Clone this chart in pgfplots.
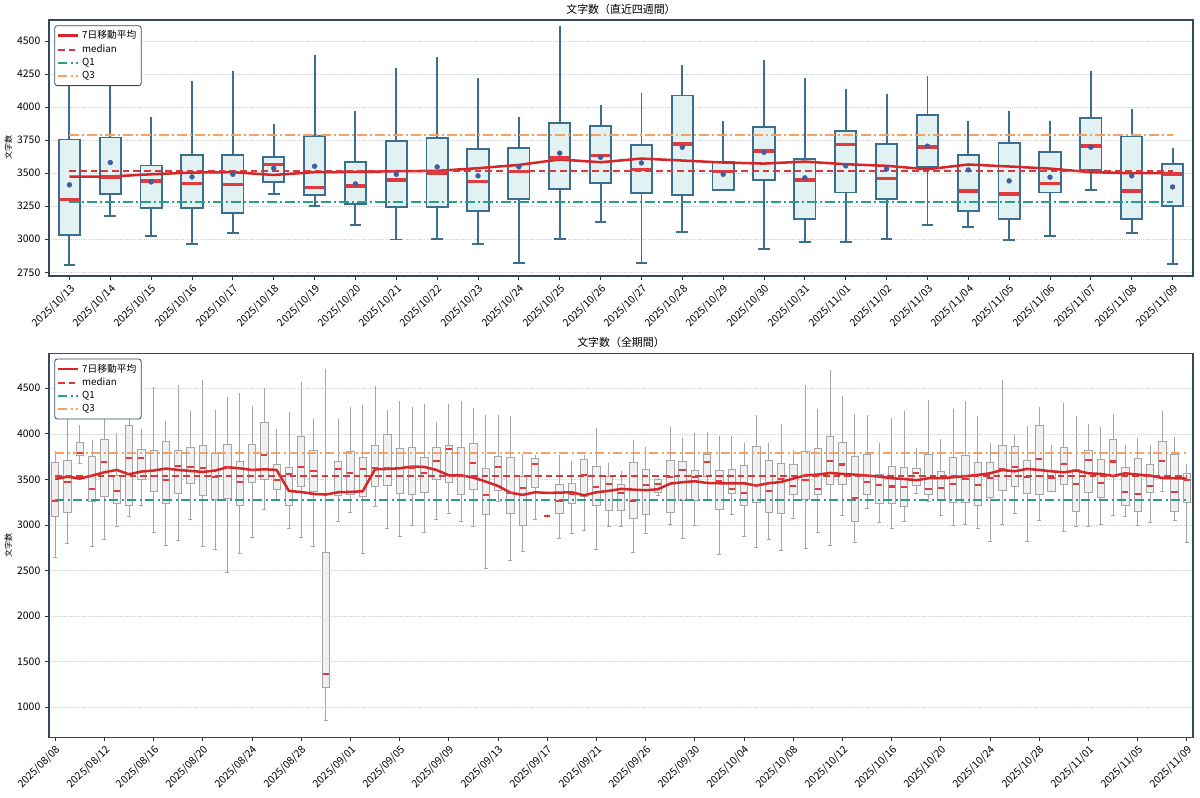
\documentclass[border=0pt]{standalone}
\usepackage{fontspec}
\setmainfont{Noto Sans CJK JP}
\usepackage{pgfplots}
\usepackage{pgfplotstable}
\pgfplotsset{compat=1.18}

\definecolor{boxblue}{RGB}{59,110,143}
\definecolor{boxfill}{RGB}{226,242,242}
\definecolor{medred}{RGB}{224,58,62}
\definecolor{mared}{RGB}{214,39,40}
\definecolor{dashred}{RGB}{217,54,62}
\definecolor{meanblue}{RGB}{63,95,159}
\definecolor{qonec}{RGB}{42,157,143}
\definecolor{qthreec}{RGB}{244,162,97}
\definecolor{framec}{RGB}{52,73,94}
\definecolor{gboxedge}{RGB}{165,165,165}
\definecolor{gboxfill}{RGB}{240,240,240}

\pgfplotstableread{
pos lw q1 med q3 uw mean ma
0 2805 3035 3300 3755 4196 3412 3475
1 3179 3341 3472 3770 4182 3581 3475
2 3025 3240 3442 3558 3879 3434 3492
3 2965 3237 3422 3641 4157 3472 3505
4 3045 3202 3414 3636 4232 3492 3508
5 3346 3432 3566 3626 3828 3538 3487
6 3255 3333 3391 3780 4348 3553 3508
7 3111 3265 3404 3588 3924 3419 3510
8 2998 3245 3447 3745 4255 3492 3515
9 3005 3245 3502 3765 4336 3548 3518
10 2965 3215 3437 3684 4179 3480 3538
11 2818 3306 3513 3692 3881 3548 3563
12 3003 3379 3614 3879 4568 3652 3604
13 3131 3424 3636 3859 3972 3621 3583
14 2821 3348 3530 3712 4066 3578 3611
15 3053 3338 3722 4088 4275 3697 3596
16 3374 3374 3515 3583 3851 3492 3581
17 2929 3447 3667 3851 4311 3659 3573
18 2982 3152 3449 3609 4179 3465 3588
19 2982 3354 3717 3821 4091 3556 3568
20 3005 3308 3462 3722 4053 3533 3556
21 3109 3548 3697 3944 4192 3705 3530
22 3093 3217 3366 3636 3851 3525 3566
23 2995 3152 3343 3732 3929 3442 3551
24 3028 3354 3424 3662 3854 3470 3535
25 3371 3523 3705 3917 4227 3697 3508
26 3048 3154 3366 3778 3939 3480 3500
27 2813 3253 3495 3571 3644 3396 3500
}\topdata

\pgfplotstableread{
pos lw q1 med q3 uw ma
0 2642 3092 3264 3684 3790 3505
1 2800 3140 3476 3706 4145 3530
2 3677 3765 3794 3908 4072 3509
3 2763 3264 3399 3758 3908 3542
4 2843 3319 3688 3940 4182 3578
5 2982 3242 3374 3540 3984 3604
6 3092 3220 3739 4090 4226 3556
7 3220 3505 3736 3831 4036 3586
8 2924 3374 3538 3816 4489 3597
9 2778 3242 3498 3915 4123 3619
10 2832 3344 3644 3823 4515 3604
11 3059 3461 3633 3849 4229 3593
12 2770 3330 3626 3878 4573 3582
13 2734 3282 3530 3787 4244 3597
14 2481 3293 3633 3889 4379 3633
15 2690 3220 3469 3695 4427 3622
16 2862 3469 3608 3882 4281 3604
17 3176 3505 3772 4123 4478 3611
18 3282 3392 3494 3663 4028 3604
19 2964 3220 3557 3633 4215 3374
20 2869 3421 3633 3977 4548 3362
21 2763 3370 3589 3823 4142 3341
22 861 1220 1362 2701 4694 3334
23 3045 3320 3611 3703 4145 3359
24 3140 3337 3575 3809 4270 3363
25 2686 3319 3611 3747 4299 3370
26 3209 3421 3622 3875 4504 3611
27 2968 3439 3626 3995 4240 3615
28 2876 3348 3540 3842 4335 3622
29 3001 3337 3630 3853 4277 3641
30 2920 3359 3567 3743 4302 3637
31 3059 3498 3706 3853 4109 3604
32 3129 3469 3834 3878 4302 3545
33 3045 3334 3538 3853 4335 3545
34 2982 3392 3684 3897 4259 3520
35 2529 3121 3326 3619 4182 3476
36 3264 3385 3637 3754 4182 3429
37 2617 3132 3348 3743 4175 3355
38 2715 2993 3403 3538 3754 3330
39 3059 3414 3666 3732 3750 3359
40 3099 3099 3099 3099 3099 3352
41 2854 3132 3260 3447 3743 3355
42 2909 3235 3344 3458 3684 3359
43 2946 3311 3545 3725 3750 3326
44 2737 3213 3418 3644 4039 3359
45 2982 3162 3450 3531 3663 3374
46 2982 3162 3352 3450 3575 3396
47 2704 3074 3264 3688 3908 3388
48 2909 3121 3440 3615 3838 3381
49 3326 3359 3450 3498 3498 3392
50 3008 3140 3531 3714 4050 3454
51 2851 3275 3600 3699 3933 3469
52 2993 3275 3530 3600 3984 3480
53 3275 3531 3688 3780 4003 3461
54 2683 3173 3483 3600 3951 3458
55 3118 3348 3399 3611 3951 3458
56 2876 3220 3355 3655 3882 3458
57 2756 3246 3440 3860 4182 3432
58 2847 3140 3377 3710 3882 3458
59 2719 3132 3505 3677 4090 3472
60 3077 3341 3432 3663 3798 3509
61 2741 3282 3498 3805 4518 3545
62 2924 3341 3392 3845 4251 3553
63 2778 3450 3703 3977 4676 3571
64 3107 3443 3663 3908 4390 3560
65 2805 3035 3300 3755 4196 3553
66 3179 3341 3472 3770 4182 3542
67 3025 3240 3442 3558 3879 3531
68 2965 3237 3422 3641 4157 3513
69 3045 3202 3414 3636 4232 3505
70 3346 3432 3566 3626 3828 3491
71 3255 3333 3391 3780 4348 3513
72 3111 3265 3404 3588 3924 3513
73 2998 3245 3447 3745 4255 3524
74 3005 3245 3502 3765 4336 3535
75 2965 3215 3437 3684 4179 3549
76 2818 3306 3513 3692 3881 3567
77 3003 3379 3614 3879 4568 3604
78 3131 3424 3636 3859 3972 3589
79 2821 3348 3530 3712 4066 3615
80 3053 3338 3722 4088 4275 3604
81 3374 3374 3515 3583 3851 3589
82 2929 3447 3667 3851 4311 3578
83 2982 3152 3449 3609 4179 3597
84 2982 3354 3717 3821 4091 3567
85 3005 3308 3462 3722 4053 3560
86 3109 3548 3697 3944 4192 3538
87 3093 3217 3366 3636 3851 3567
88 2995 3152 3343 3732 3929 3553
89 3028 3354 3424 3662 3854 3542
90 3371 3523 3705 3917 4227 3516
91 3048 3154 3366 3778 3939 3513
92 2813 3253 3495 3571 3644 3509
}\alldata

\newcommand{\tfont}{\fontsize{7.8}{9}\selectfont}

\pgfplotsset{
  topgeom/.style={scale only axis, anchor=south west, at={(36.75pt,390.75pt)},
    width=858pt, height=192pt, xmin=-0.5, xmax=27.5, ymin=2722, ymax=4660},
  botgeom/.style={scale only axis, anchor=south west, at={(36.75pt,44.8pt)},
    width=858pt, height=288pt, xmin=-0.5, xmax=92.5, ymin=671, ymax=4884},
  frontstyle/.style={hide axis,
    legend cell align=left,
    legend style={at={(rel axis cs:0,1)}, anchor=north west, xshift=4pt, yshift=-4pt,
      draw=framec, line width=0.6pt, rounded corners=2pt, fill=white,
      font=\fontsize{7.3}{8.5}\selectfont, inner sep=1.5pt, row sep=-1.5pt,
      nodes={inner sep=2.2pt}},
    legend image code/.code={\draw[##1] (0pt,0pt) -- (15pt,0pt);},
  },
  chartbase/.style={
    axis line style={draw=framec, line width=0.9pt},
    tick pos=left,
    tick align=outside,
    major tick length=3pt,
    tick style={draw=black!80, line width=0.6pt},
    ymajorgrids,
    grid style={densely dotted, black!18, line width=0.5pt},
    tick label style={font=\tfont},
    /pgf/number format/assume math mode=true,
    /pgf/number format/1000 sep={},
    x tick label style={rotate=45, anchor=north east, inner sep=1.5pt},
    ylabel={文字数},
    ylabel style={font=\fontsize{6}{7}\selectfont},
    ylabel shift=-3pt,
    title style={font=\fontsize{8.2}{9.5}\selectfont, yshift=-5.5pt},
  },
  qline/.style={line width=1.5pt, dash pattern=on 7pt off 2.5pt on 1.5pt off 2.5pt},
}

\begin{document}
\begin{tikzpicture}
\useasboundingbox (0,0) rectangle (900pt,597.75pt);

% ================= top chart =================
% frame, grid, ticks and whiskers
\begin{axis}[topgeom, chartbase,
  ytick={2750,3000,3250,3500,3750,4000,4250,4500},
  xtick={0,...,27},
  xticklabels={2025/10/13,2025/10/14,2025/10/15,2025/10/16,2025/10/17,2025/10/18,2025/10/19,2025/10/20,2025/10/21,2025/10/22,2025/10/23,2025/10/24,2025/10/25,2025/10/26,2025/10/27,2025/10/28,2025/10/29,2025/10/30,2025/10/31,2025/11/01,2025/11/02,2025/11/03,2025/11/04,2025/11/05,2025/11/06,2025/11/07,2025/11/08,2025/11/09},
  title={文字数（直近四週間）},
]
\addplot[only marks, mark=-, mark size=4.4pt, mark options={solid, draw=boxblue, line width=1.4pt},
  error bars/.cd, y dir=plus, y explicit, error mark=-,
  error bar style={solid, draw=boxblue, line width=1.4pt},
  error mark options={solid, draw=boxblue, mark size=4.4pt, line width=1.4pt}]
  table[x=pos, y=lw, y error expr=\thisrow{uw}-\thisrow{lw}] {\topdata};
\end{axis}
% boxes (q1 to q3)
\begin{axis}[topgeom, hide axis, ybar stacked, bar width=0.52]
\addplot[draw=none, fill=none] table[x=pos, y=q1] {\topdata};
\addplot[draw=boxblue, fill=boxfill, line width=1.4pt] table[x=pos, y expr=\thisrow{q3}-\thisrow{q1}] {\topdata};
\end{axis}
% medians, lines, means, legend
\begin{axis}[topgeom, frontstyle]
\addplot[forget plot, only marks, mark=-, mark size=7.3pt, mark options={solid, draw=medred, line width=2.6pt}]
  table[x=pos, y=med] {\topdata};
\addplot[mared, line width=1.9pt] table[x=pos, y=ma] {\topdata};
\addlegendentry{7日移動平均}
\addplot[dashred, line width=1.4pt, dash pattern=on 5pt off 3pt] coordinates {(0,3515) (27,3515)};
\addlegendentry{median}
\addplot[qonec, qline] coordinates {(0,3285) (27,3285)};
\addlegendentry{Q1}
\addplot[qthreec, qline] coordinates {(0,3787) (27,3787)};
\addlegendentry{Q3}
\addplot[forget plot, only marks, mark=*, mark size=1.8pt, color=meanblue] table[x=pos, y=mean] {\topdata};
\end{axis}

% ================= bottom chart =================
\begin{axis}[botgeom, chartbase,
  ytick={1000,1500,2000,2500,3000,3500,4000,4500},
  xtick={0,4,...,92},
  xticklabels={2025/08/08,2025/08/12,2025/08/16,2025/08/20,2025/08/24,2025/08/28,2025/09/01,2025/09/05,2025/09/09,2025/09/13,2025/09/17,2025/09/21,2025/09/26,2025/09/30,2025/10/04,2025/10/08,2025/10/12,2025/10/16,2025/10/20,2025/10/24,2025/10/28,2025/11/01,2025/11/05,2025/11/09},
  title={文字数（全期間）},
]
\addplot[only marks, mark=-, mark size=1.5pt, mark options={solid, draw=gboxedge, line width=0.55pt},
  error bars/.cd, y dir=plus, y explicit, error mark=-,
  error bar style={solid, draw=gboxedge, line width=0.55pt},
  error mark options={solid, draw=gboxedge, mark size=1.5pt, line width=0.55pt}]
  table[x=pos, y=lw, y error expr=\thisrow{uw}-\thisrow{lw}] {\alldata};
\end{axis}
\begin{axis}[botgeom, hide axis, ybar stacked, bar width=0.6]
\addplot[draw=none, fill=none] table[x=pos, y=q1] {\alldata};
\addplot[draw=gboxedge, fill=gboxfill, line width=0.55pt] table[x=pos, y expr=\thisrow{q3}-\thisrow{q1}] {\alldata};
\end{axis}
\begin{axis}[botgeom, frontstyle]
\addplot[forget plot, only marks, mark=-, mark size=2.3pt, mark options={solid, draw=medred, line width=1.6pt}]
  table[x=pos, y=med] {\alldata};
\addplot[mared, line width=1.9pt] table[x=pos, y=ma] {\alldata};
\addlegendentry{7日移動平均}
\addplot[dashred, line width=1.4pt, dash pattern=on 5pt off 3pt] coordinates {(0,3538) (92,3538)};
\addlegendentry{median}
\addplot[qonec, qline] coordinates {(0,3279) (92,3279)};
\addlegendentry{Q1}
\addplot[qthreec, qline] coordinates {(0,3790) (92,3790)};
\addlegendentry{Q3}
\end{axis}
\end{tikzpicture}
\end{document}
